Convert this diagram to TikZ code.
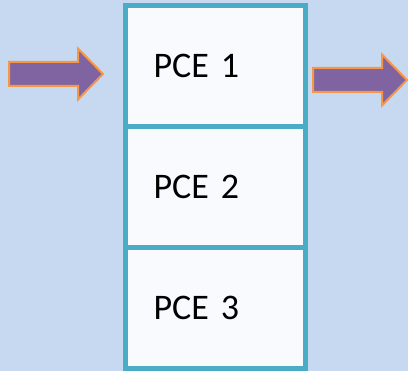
\documentclass[tikz,border=0pt]{standalone}
\usepackage{fontspec}
\setmainfont{Carlito}
\usepackage{tikz}
\newcommand{\lf}{94}
\newcommand{\hf}{12}
\newcommand{\tf}{25.5}
\newcommand{\pf}{25}
\definecolor{fond}{RGB}{198,217,241}
\definecolor{bleupce}{RGB}{75,172,198}
\definecolor{blancpce}{RGB}{249,250,253}
\definecolor{violetfl}{RGB}{128,100,162}
\definecolor{orangefl}{RGB}{247,150,70}
\tikzstyle{pce}=[draw=bleupce, fill=blancpce, line width=5pt, outer sep=0pt, minimum width=180pt, minimum height=120.7pt, text width=123pt, inner xsep=28.5pt, align=left, font=\fontsize{36}{40}\selectfont, anchor=north]
\tikzstyle{fleche}=[fill=violetfl, draw=orangefl, line width=2pt, join=miter]
\newcommand{\fleche}[1]{
  \begin{scope}[shift={#1}]
  \path[fleche] (0,-\hf) -- (\lf-\pf,-\hf) -- (\lf-\pf,-\tf) -- (\lf,0) -- (\lf-\pf,\tf) -- (\lf-\pf,\hf) -- (0,\hf) -- cycle;
  \end{scope}
}

\begin{document}
\begin{tikzpicture}[x=1pt,y=1pt]
\fill[fond] (0,0) rectangle (408,371);
\useasboundingbox (0,0) rectangle (408,371);

% colonne
\node[pce] (pce1) at (215,365) {PCE 1};
\node[pce] (pce2) at (pce1.south) {PCE 2};
\node[pce] (pce3) at (pce2.south) {PCE 3};

% fleches
\fleche{(9,297)}
\fleche{(313,291)}
\end{tikzpicture}
\end{document}
